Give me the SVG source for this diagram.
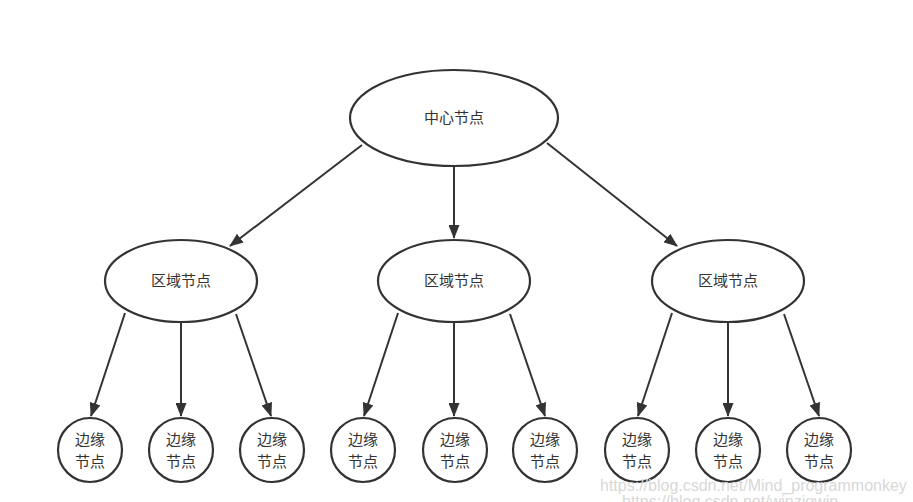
<svg xmlns="http://www.w3.org/2000/svg" width="913" height="502" viewBox="0 0 913 502">
<defs>
<marker id="arr" viewBox="0 0 14 11" refX="13" refY="5.5" markerWidth="14" markerHeight="11" markerUnits="userSpaceOnUse" orient="auto">
<path d="M0,0 L14,5.5 L0,11 z" fill="#333"/>
</marker>
<style>
.n{fill:#fff;stroke:#333;stroke-width:2.2}
.t{font-family:"Noto Sans CJK SC","Liberation Sans",sans-serif;font-size:15px;fill:#333;text-anchor:middle}
.e{stroke:#333;stroke-width:2;fill:none;marker-end:url(#arr)}
.w{font-family:"Liberation Sans",sans-serif;font-size:16px;fill:#d8d8d8}
</style>
</defs>
<rect width="913" height="502" fill="#fff"/>
<g id="connectors">
<line class="e" x1="362" y1="145" x2="230" y2="246"/>
<line class="e" x1="454" y1="166" x2="454" y2="238"/>
<line class="e" x1="547" y1="143" x2="677" y2="246"/>
<line class="e" x1="125" y1="313" x2="91" y2="416"/>
<line class="e" x1="181" y1="322" x2="181" y2="416"/>
<line class="e" x1="236" y1="314" x2="271" y2="416"/>
<line class="e" x1="398" y1="313" x2="364" y2="416"/>
<line class="e" x1="454" y1="322" x2="454" y2="416"/>
<line class="e" x1="510" y1="314" x2="545" y2="416"/>
<line class="e" x1="672" y1="313" x2="638" y2="416"/>
<line class="e" x1="728" y1="322" x2="728" y2="416"/>
<line class="e" x1="784" y1="314" x2="819" y2="416"/>
</g>
<g id="center"><ellipse class="n" cx="454" cy="118" rx="104" ry="48"/><text class="t" x="454" y="123">中心节点</text></g>
<g id="region1"><ellipse class="n" cx="181" cy="281" rx="76" ry="41"/><text class="t" x="181" y="286">区域节点</text></g>
<g id="region2"><ellipse class="n" cx="454" cy="281" rx="76" ry="41"/><text class="t" x="454" y="286">区域节点</text></g>
<g id="region3"><ellipse class="n" cx="728" cy="281" rx="76" ry="41"/><text class="t" x="728" y="286">区域节点</text></g>
<g id="edge1"><circle class="n" cx="90" cy="450" r="32"/><text class="t" x="90" y="445">边缘</text><text class="t" x="90" y="467">节点</text></g>
<g id="edge2"><circle class="n" cx="181" cy="450" r="32"/><text class="t" x="181" y="445">边缘</text><text class="t" x="181" y="467">节点</text></g>
<g id="edge3"><circle class="n" cx="272" cy="450" r="32"/><text class="t" x="272" y="445">边缘</text><text class="t" x="272" y="467">节点</text></g>
<g id="edge4"><circle class="n" cx="363" cy="450" r="32"/><text class="t" x="363" y="445">边缘</text><text class="t" x="363" y="467">节点</text></g>
<g id="edge5"><circle class="n" cx="455" cy="450" r="32"/><text class="t" x="455" y="445">边缘</text><text class="t" x="455" y="467">节点</text></g>
<g id="edge6"><circle class="n" cx="545" cy="450" r="32"/><text class="t" x="545" y="445">边缘</text><text class="t" x="545" y="467">节点</text></g>
<g id="edge7"><circle class="n" cx="637" cy="450" r="32"/><text class="t" x="637" y="445">边缘</text><text class="t" x="637" y="467">节点</text></g>
<g id="edge8"><circle class="n" cx="728" cy="450" r="32"/><text class="t" x="728" y="445">边缘</text><text class="t" x="728" y="467">节点</text></g>
<g id="edge9"><circle class="n" cx="819" cy="450" r="32"/><text class="t" x="819" y="445">边缘</text><text class="t" x="819" y="467">节点</text></g>
<text class="w" x="600" y="491">https://blog.csdn.net/Mind_programmonkey</text>
<text class="w" x="622" y="507">https://blog.csdn.net/winzigwin</text>
</svg>
